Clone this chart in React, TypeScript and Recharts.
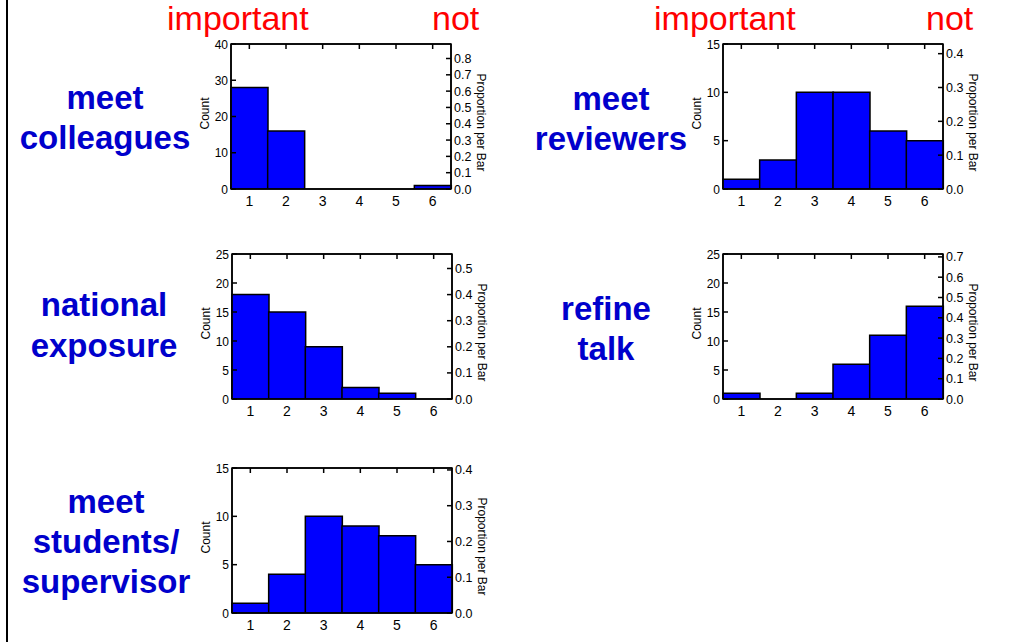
import React from "react";
import { ComposedChart, Bar, Line, XAxis, YAxis, ReferenceArea } from "recharts";

// rating 1 (important) .. 6 (not)
const categories = ["1", "2", "3", "4", "5", "6"];

const colleaguesCounts = [28, 16, 0, 0, 0, 1];
const reviewersCounts = [1, 3, 10, 10, 6, 5];
const exposureCounts = [18, 15, 9, 2, 1, 0];
const refineTalkCounts = [1, 0, 1, 6, 11, 16];
const studentsCounts = [1, 4, 10, 9, 8, 5];

const countTicks40 = [0, 10, 20, 30, 40];
const countTicks25 = [0, 5, 10, 15, 20, 25];
const countTicks15 = [0, 5, 10, 15];

const propTicks08 = [0, 0.1, 0.2, 0.3, 0.4, 0.5, 0.6, 0.7, 0.8];
const propTicks07 = [0, 0.1, 0.2, 0.3, 0.4, 0.5, 0.6, 0.7];
const propTicks05 = [0, 0.1, 0.2, 0.3, 0.4, 0.5];
const propTicks04 = [0, 0.1, 0.2, 0.3, 0.4];

const FONT = "'Liberation Sans', Arial, Helvetica, sans-serif";
const BLUE_TEXT = "#0000CC";
const RED_TEXT = "#FF0000";

const PLOT_W = 220;
const PLOT_H = 145;
const M_LEFT = 15;
const M_TOP = 14;
const TOP_AXIS_H = 1;
const LEFT_AXIS_W = 30;
const RIGHT_AXIS_W = 35;
const M_RIGHT = 20;
const X_AXIS_H = 25;
const M_BOTTOM = 15;
const CHART_W = M_LEFT + LEFT_AXIS_W + PLOT_W + RIGHT_AXIS_W + M_RIGHT;
const CHART_H = M_TOP + TOP_AXIS_H + PLOT_H + X_AXIS_H + M_BOTTOM;

const axisStroke = { stroke: "#000", strokeWidth: 1.5 };

function LeftTick({ x, y, payload }: any) {
	return (
		<g>
			<line x1={x} x2={x + 5} y1={y} y2={y} stroke="#000" strokeWidth={1.5} />
			<text x={x - 3} y={y} dy={4.5} textAnchor="end" fontSize={12} fontFamily={FONT} fill="#000">
				{payload.value}
			</text>
		</g>
	);
}

function RightTick({ x, y, payload }: any) {
	return (
		<g>
			<line x1={x} x2={x - 5} y1={y} y2={y} stroke="#000" strokeWidth={1.5} />
			<text x={x + 3} y={y} dy={4.5} textAnchor="start" fontSize={12.5} fontFamily={FONT} fill="#000">
				{Number(payload.value).toFixed(1)}
			</text>
		</g>
	);
}

function BottomTick({ x, y, payload }: any) {
	return (
		<text x={x} y={y} dy={17} textAnchor="middle" fontSize={14} fontFamily={FONT} fill="#000">
			{payload.value}
		</text>
	);
}

function TopTick({ x, y }: any) {
	return <line x1={x} x2={x} y1={y} y2={y + 5} stroke="#000" strokeWidth={1.5} />;
}

function CountLabel({ viewBox }: any) {
	if (!viewBox) return null;
	const cx = viewBox.x + viewBox.width - 26;
	const cy = viewBox.y + viewBox.height / 2 - 3;
	return (
		<text
			x={cx}
			y={cy}
			transform={`rotate(-90 ${cx} ${cy})`}
			textAnchor="middle"
			dominantBaseline="central"
			fontSize={12}
			fontFamily={FONT}
			fill="#000"
		>
			Count
		</text>
	);
}

function PropLabel({ viewBox }: any) {
	if (!viewBox) return null;
	const cx = viewBox.x + 30;
	const cy = viewBox.y + viewBox.height / 2 + 6;
	return (
		<text
			x={cx}
			y={cy}
			transform={`rotate(90 ${cx} ${cy})`}
			textAnchor="middle"
			dominantBaseline="central"
			fontSize={12}
			fontFamily={FONT}
			fill="#000"
		>
			Proportion per Bar
		</text>
	);
}

interface PanelProps {
	counts: number[];
	countTicks: number[];
	propTicks: number[];
	plotLeft: number;
	plotTop: number;
}

function Panel({ counts, countTicks, propTicks, plotLeft, plotTop }: PanelProps) {
	const total = counts.reduce((a, b) => a + b, 0);
	const countMax = countTicks[countTicks.length - 1];
	const data = categories.map((name, i) => ({
		name,
		count: counts[i],
		prop: counts[i] / total,
	}));

	return (
		<div
			style={{
				position: "absolute",
				left: plotLeft - M_LEFT - LEFT_AXIS_W,
				top: plotTop - M_TOP - TOP_AXIS_H,
			}}
		>
			<ComposedChart
				width={CHART_W}
				height={CHART_H}
				data={data}
				barCategoryGap={0}
				margin={{ top: M_TOP, right: M_RIGHT, bottom: M_BOTTOM, left: M_LEFT }}
			>
				<XAxis
					dataKey="name"
					xAxisId="bottom"
					orientation="bottom"
					height={X_AXIS_H}
					axisLine={axisStroke}
					tickLine={false}
					tickSize={0}
					tickMargin={0}
					tick={BottomTick}
					interval={0}
				/>
				<XAxis
					dataKey="name"
					xAxisId="top"
					orientation="top"
					height={TOP_AXIS_H}
					axisLine={axisStroke}
					tickLine={false}
					tickSize={0}
					tickMargin={0}
					tick={TopTick}
					interval={0}
				/>
				<YAxis
					yAxisId="count"
					orientation="left"
					width={LEFT_AXIS_W}
					domain={[0, countMax]}
					ticks={countTicks}
					allowDataOverflow
					axisLine={axisStroke}
					tickLine={false}
					tickSize={0}
					tickMargin={0}
					tick={LeftTick}
					interval={0}
					label={CountLabel}
				/>
				<YAxis
					yAxisId="prop"
					orientation="right"
					width={RIGHT_AXIS_W}
					domain={[0, countMax / total]}
					ticks={propTicks}
					allowDataOverflow
					axisLine={axisStroke}
					tickLine={false}
					tickSize={0}
					tickMargin={0}
					tick={RightTick}
					interval={0}
					label={PropLabel}
				/>
				<Bar
					dataKey="count"
					xAxisId="bottom"
					yAxisId="count"
					fill="#0000FF"
					stroke="#000"
					strokeWidth={1.5}
					isAnimationActive={false}
				/>
				<Line
					dataKey="prop"
					xAxisId="top"
					yAxisId="prop"
					stroke="none"
					dot={false}
					activeDot={false}
					isAnimationActive={false}
				/>
				{/* plot frame */}
				<ReferenceArea
					xAxisId="bottom"
					yAxisId="count"
					y1={0}
					y2={countMax}
					fill="none"
					stroke="#000"
					strokeWidth={1.5}
					ifOverflow="visible"
				/>
			</ComposedChart>
		</div>
	);
}

function Caption({ lines, centerX, top, lineHeight = 40 }: { lines: string[]; centerX: number; top: number; lineHeight?: number }) {
	return (
		<div
			style={{
				position: "absolute",
				left: centerX - 150,
				top,
				width: 300,
				textAlign: "center",
				fontFamily: FONT,
				fontWeight: "bold",
				fontSize: 33,
				lineHeight: `${lineHeight}px`,
				color: BLUE_TEXT,
				whiteSpace: "nowrap",
			}}
		>
			{lines.map((l) => (
				<div key={l}>{l}</div>
			))}
		</div>
	);
}

function RedWord({ text, left }: { text: string; left: number }) {
	return (
		<div
			style={{
				position: "absolute",
				left,
				top: 5,
				fontFamily: FONT,
				fontSize: 34,
				lineHeight: "26px",
				color: RED_TEXT,
				whiteSpace: "nowrap",
			}}
		>
			{text}
		</div>
	);
}

export default function App() {
	return (
		<div
			style={{
				position: "absolute",
				left: 0,
				top: 0,
				width: 1009,
				height: 642,
				background: "#fff",
				overflow: "hidden",
			}}
		>
			<div style={{ position: "absolute", left: 6, top: 0, width: 2, height: 642, background: "#000" }} />

			<RedWord text="important" left={167} />
			<RedWord text="not" left={432} />
			<RedWord text="important" left={654} />
			<RedWord text="not" left={926} />

			<Caption lines={["meet", "colleagues"]} centerX={105} top={78} />
			<Caption lines={["meet", "reviewers"]} centerX={611} top={79} />
			<Caption lines={["national", "exposure"]} centerX={104} top={284} lineHeight={41} />
			<Caption lines={["refine", "talk"]} centerX={606} top={289} />
			<Caption lines={["meet", "students/", "supervisor"]} centerX={106} top={482} />

			<Panel counts={colleaguesCounts} countTicks={countTicks40} propTicks={propTicks08} plotLeft={231} plotTop={44} />
			<Panel counts={reviewersCounts} countTicks={countTicks15} propTicks={propTicks04} plotLeft={723} plotTop={44} />
			<Panel counts={exposureCounts} countTicks={countTicks25} propTicks={propTicks05} plotLeft={232} plotTop={254} />
			<Panel counts={refineTalkCounts} countTicks={countTicks25} propTicks={propTicks07} plotLeft={723} plotTop={254} />
			<Panel counts={studentsCounts} countTicks={countTicks15} propTicks={propTicks04} plotLeft={232} plotTop={468} />
		</div>
	);
}
